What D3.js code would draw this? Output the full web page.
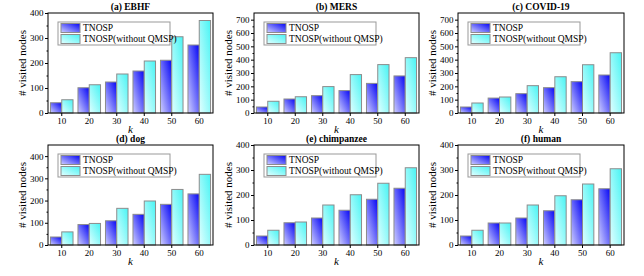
<!DOCTYPE html>
<html>
<head>
<meta charset="utf-8">
<script src="https://cdn.jsdelivr.net/npm/d3@7"></script>
<style>
  body { margin: 0; background: #fff; }
  svg text { font-family: "Liberation Serif", "Times New Roman", serif; fill: #000; }
</style>
</head>
<body>
<svg id="chart" width="644" height="276"></svg>
<script>
// data
const ks = ["10", "20", "30", "40", "50", "60"];
const seriesNames = ["TNOSP", "TNOSP(without QMSP)"];

const titles = ["(a) EBHF", "(b) MERS", "(c) COVID-19", "(d) dog", "(e) chimpanzee", "(f) human"];
const yMaxes = [400, 750, 750, 450, 400, 400];
const yTickSteps = [100, 100, 100, 100, 100, 100];

const tnospVals = [
    [41, 101, 124, 168, 211, 272],
    [45, 105, 130, 168, 222, 278],
    [45, 112, 145, 190, 235, 285],
    [36, 92, 109, 138, 183, 230],
    [36, 89, 108, 139, 183, 227],
    [36, 88, 108, 137, 181, 225]
];
const noQmspVals = [
    [53, 113, 156, 208, 305, 370],
    [88, 122, 198, 288, 363, 415],
    [75, 120, 205, 272, 362, 452],
    [59, 97, 165, 198, 250, 318],
    [59, 92, 160, 201, 247, 309],
    [59, 88, 160, 197, 244, 305]
];

// panel boxes (plot area)
const colX = [[48, 213], [254, 419], [458, 624]];
const rowY = [[13, 113], [145, 245]];

const svg = d3.select("#chart");

// gradients
const defs = svg.append("defs");
function addGrad(id, c0, c1) {
    const g = defs.append("linearGradient")
        .attr("id", id)
        .attr("x1", 0).attr("y1", 1)
        .attr("x2", 1).attr("y2", 0);
    g.append("stop").attr("offset", "0%").attr("stop-color", c0);
    g.append("stop").attr("offset", "100%").attr("stop-color", c1);
}
addGrad("gBlue", "#d0d0ff", "#0505f5");
addGrad("gCyan", "#e2ffff", "#48f4f4");
const fills = ["url(#gBlue)", "url(#gCyan)"];

titles.forEach((title, i) => {
    const [x0, x1] = colX[i % 3];
    const [y0, y1] = rowY[Math.floor(i / 3)];
    const g = svg.append("g");

    const x = d3.scaleBand().domain(ks).range([x0, x1])
        .paddingInner(0.18).paddingOuter(0.09);
    const xs = d3.scaleBand().domain(seriesNames).range([0, x.bandwidth()]);
    const y = d3.scaleLinear().domain([0, yMaxes[i]]).range([y1, y0]);

    const rows = ks.map((k, j) => ({ k, vals: [tnospVals[i][j], noQmspVals[i][j]] }));

    // bars
    g.selectAll(".grp")
        .data(rows)
        .enter()
        .append("g")
        .attr("transform", d => `translate(${x(d.k)},0)`)
        .selectAll("rect")
        .data(d => d.vals.map((v, s) => ({ v, s })))
        .enter()
        .append("rect")
        .attr("x", d => xs(seriesNames[d.s]))
        .attr("y", d => y(d.v))
        .attr("width", xs.bandwidth())
        .attr("height", d => y1 - y(d.v))
        .attr("fill", d => fills[d.s])
        .attr("stroke", "#8c8c8c")
        .attr("stroke-width", 1);

    // y axis major + minor ticks
    const step = yTickSteps[i];
    const majors = d3.range(0, yMaxes[i] + 1, step).filter(v => v <= yMaxes[i]);
    const minors = d3.range(step / 2, yMaxes[i], step).filter(v => !majors.includes(v));
    g.append("g")
        .attr("transform", `translate(${x0},0)`)
        .call(d3.axisLeft(y).tickValues(majors).tickSize(3).tickPadding(1.5).tickFormat(d3.format("d")))
        .call(a => a.select(".domain").remove())
        .call(a => a.selectAll("text").style("font-size", "9px").attr("font-family", null));
    g.append("g")
        .attr("transform", `translate(${x0},0)`)
        .call(d3.axisLeft(y).tickValues(minors).tickSize(1.5).tickFormat(""))
        .call(a => a.select(".domain").remove());

    // x axis
    g.append("g")
        .attr("transform", `translate(0,${y1})`)
        .call(d3.axisBottom(x).tickSize(3).tickPadding(2))
        .call(a => a.select(".domain").remove())
        .call(a => a.selectAll("text").style("font-size", "9px").attr("font-family", null));

    // frame
    g.append("rect")
        .attr("x", x0).attr("y", y0)
        .attr("width", x1 - x0).attr("height", y1 - y0)
        .attr("fill", "none")
        .attr("stroke", "#000")
        .attr("stroke-width", 1);

    // title
    g.append("text")
        .attr("x", (x0 + x1) / 2)
        .attr("y", y0 - 3.5)
        .attr("text-anchor", "middle")
        .style("font-size", "9.5px")
        .style("font-weight", "bold")
        .text(title);

    // x label
    g.append("text")
        .attr("x", (x0 + x1) / 2)
        .attr("y", y1 + 20)
        .attr("text-anchor", "middle")
        .style("font-size", "11px")
        .style("font-style", "italic")
        .text("k");

    // y label
    g.append("text")
        .attr("transform", `translate(${x0 - 22},${(y0 + y1) / 2}) rotate(-90)`)
        .attr("text-anchor", "middle")
        .style("font-size", "11px")
        .text("# visited nodes");

    // legend
    const lg = g.append("g").attr("transform", `translate(${x0 + 10},${y0 + 9})`);
    lg.append("rect")
        .attr("width", 112).attr("height", 23)
        .attr("fill", "#fff")
        .attr("stroke", "#999")
        .attr("stroke-width", 1);
    seriesNames.forEach((name, s) => {
        lg.append("rect")
            .attr("x", 3).attr("y", 1.5 + s * 11)
            .attr("width", 19).attr("height", 9)
            .attr("fill", fills[s])
            .attr("stroke", "#8c8c8c");
        lg.append("text")
            .attr("x", 25).attr("y", 9 + s * 11)
            .style("font-size", "9.5px")
            .text(name);
    });
});
</script>
</body>
</html>
